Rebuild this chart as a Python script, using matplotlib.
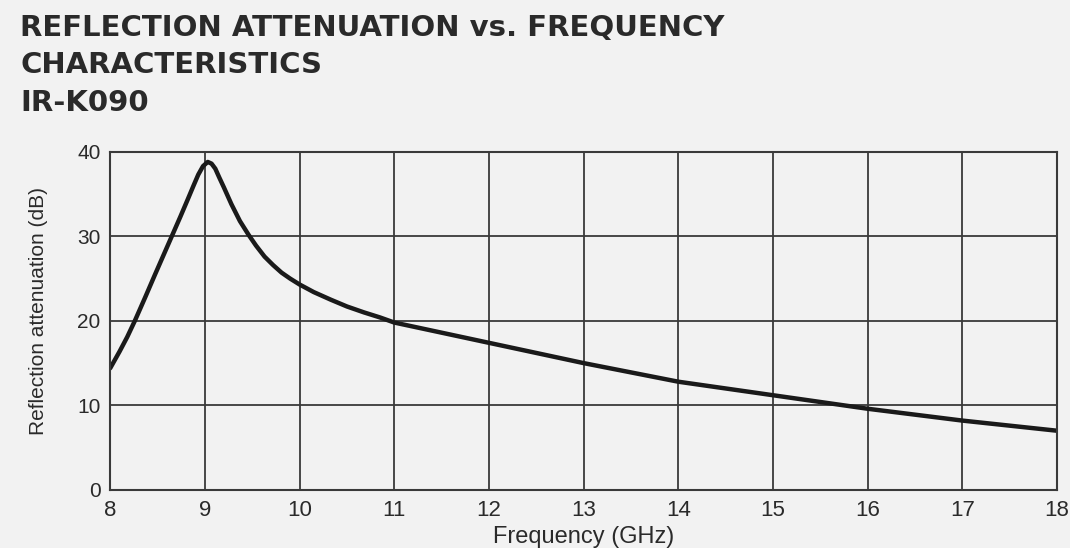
import matplotlib.pyplot as plt
from matplotlib import font_manager

# データ
freq = [8.0, 8.1, 8.18, 8.26, 8.37, 8.47, 8.56, 8.65, 8.74, 8.82, 8.88, 8.93, 8.98, 9.03,
        9.07, 9.11, 9.15, 9.2, 9.28, 9.37, 9.46, 9.54, 9.63, 9.72, 9.81, 9.9, 10.0, 10.15,
        10.33, 10.5, 10.68, 10.85, 11.0, 11.5, 12.0, 12.5, 13.0, 13.5, 14.0, 14.5, 15.0,
        15.5, 16.0, 16.5, 17.0, 17.5, 18.0]
atten = [14.4, 16.4, 18.1, 20.0, 22.8, 25.4, 27.7, 30.0, 32.3, 34.4, 36.0, 37.3, 38.3, 38.8,
         38.6, 38.0, 37.0, 35.8, 33.8, 31.8, 30.2, 28.9, 27.6, 26.6, 25.7, 25.0, 24.3, 23.4,
         22.5, 21.7, 21.0, 20.4, 19.8, 18.6, 17.4, 16.2, 15.0, 13.9, 12.8, 12.0, 11.2,
         10.4, 9.6, 8.9, 8.2, 7.6, 7.0]

x_ticks = [8, 9, 10, 11, 12, 13, 14, 15, 16, 17, 18]
y_ticks = [0, 10, 20, 30, 40]
title_lines = ["REFLECTION ATTENUATION vs. FREQUENCY", "CHARACTERISTICS", "IR-K090"]

names = {f.name for f in font_manager.fontManager.ttflist}
narrow = "Liberation Sans Narrow" if "Liberation Sans Narrow" in names else "Liberation Sans"

bg = "#f2f2f2"
ink = "#2a2a2a"

fig = plt.figure(figsize=(10.7, 5.48), dpi=100, facecolor=bg)
ax = fig.add_axes([0.103, 0.106, 0.885, 0.617], facecolor=bg)

# タイトル（3行）
baselines = [0.934, 0.867, 0.797]
for line, yb in zip(title_lines, baselines):
    fig.text(0.019, yb, line, fontsize=21, fontweight="bold",
             family="DejaVu Sans", color=ink, ha="left", va="baseline")

ax.plot(freq, atten, color="#1a1a1a", linewidth=3.2, solid_capstyle="round",
        solid_joinstyle="round")

ax.set_xlim(8, 18)
ax.set_ylim(0, 40)
ax.set_xticks(x_ticks)
ax.set_yticks(y_ticks)
ax.set_xticklabels([str(v) for v in x_ticks], family="Liberation Sans", fontsize=16, color=ink)
ax.set_yticklabels([str(v) for v in y_ticks], family="Liberation Sans", fontsize=15, color=ink)
ax.tick_params(length=0, pad=7)
ax.grid(True, color="#3a3a3a", linewidth=1.3)
ax.set_axisbelow(True)
for s in ax.spines.values():
    s.set_color("#3a3a3a")
    s.set_linewidth(1.5)

ax.set_xlabel("Frequency (GHz)", family="Liberation Sans", fontsize=17, color=ink, labelpad=4)
ax.set_ylabel("Reflection attenuation (dB)", family=narrow, fontsize=15, color=ink)
ax.yaxis.set_label_coords(-0.066, 0.53)

fig.savefig("out.png", dpi=100, facecolor=bg)
